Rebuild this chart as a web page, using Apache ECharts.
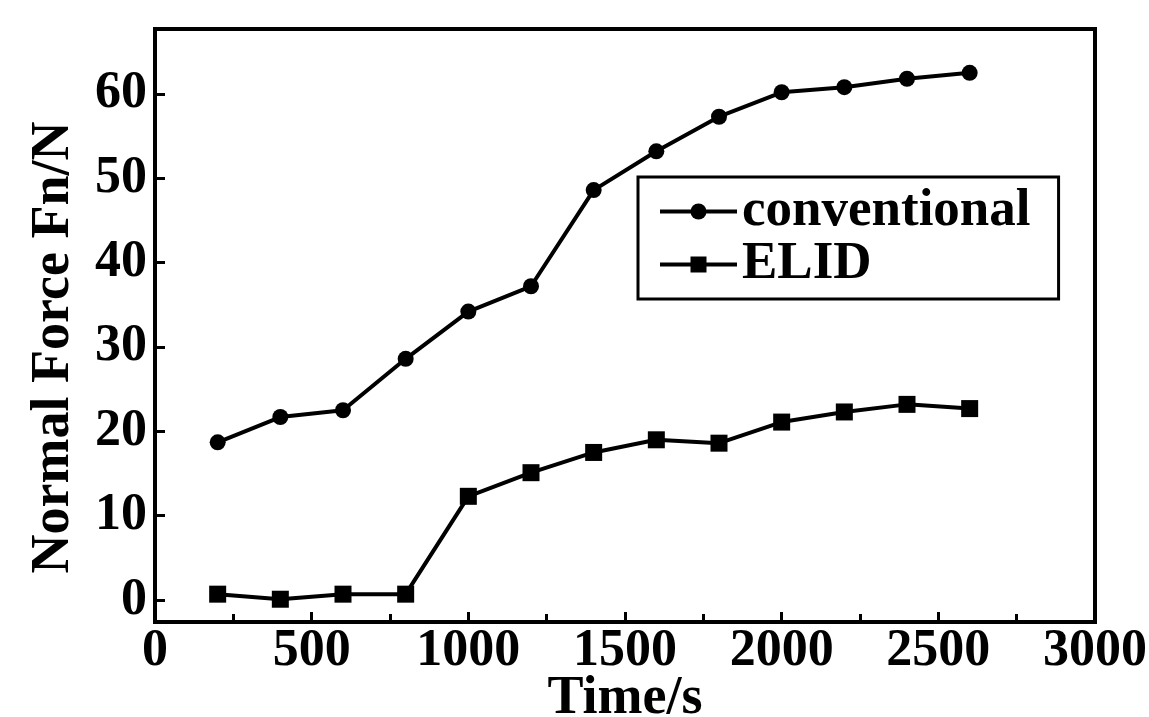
<!DOCTYPE html>
<html>
<head>
<meta charset="utf-8">
<script src="https://cdn.jsdelivr.net/npm/echarts@6/dist/echarts.min.js"></script>
<style>
  html, body { margin: 0; padding: 0; background: #fff; }
  #chart { width: 1149px; height: 717px; }
</style>
</head>
<body>
<div id="chart"></div>
<script>
// 数据
const times = [200, 400, 600, 800, 1000, 1200, 1400, 1600, 1800, 2000, 2200, 2400, 2600];
const conventional = [18.7, 21.7, 22.5, 28.6, 34.2, 37.2, 48.6, 53.2, 57.3, 60.2, 60.8, 61.8, 62.5];
const elid = [0.7, 0.1, 0.7, 0.7, 12.3, 15.1, 17.5, 19.0, 18.6, 21.1, 22.3, 23.2, 22.7];
const yTicks = [0, 10, 20, 30, 40, 50, 60];

const font = "'Liberation Serif', 'Times New Roman', serif";

let myChart = echarts.init(document.getElementById('chart'));
myChart.setOption({
    backgroundColor: '#fff',
    animation: false,
    grid: {
        left: 155,
        right: 54,
        top: 29,
        bottom: 95,
        outerBoundsMode: 'none',
        containLabel: false,
        show: true,
        borderColor: '#000',
        borderWidth: 4
    },
    legend: {
        left: 638,
        top: 177,
        orient: 'vertical',
        padding: [8, 28, 8, 20],
        itemGap: 0,
        itemWidth: 77,
        itemHeight: 20,
        itemTextGap: 8,
        borderColor: '#000',
        borderWidth: 3,
        lineStyle: {color: '#000', width: 4},
        textStyle: {
            fontFamily: font,
            fontWeight: 'bold',
            fontSize: 53,
            color: '#000'
        },
        data: ['conventional', 'ELID']
    },
    xAxis: {
        type: 'value',
        min: 0,
        max: 3000,
        interval: 500,
        name: 'Time/s',
        nameLocation: 'middle',
        nameGap: 50,
        nameMoveOverlap: false,
        nameTextStyle: {
            fontFamily: font,
            fontWeight: 'bold',
            fontSize: 54,
            color: '#000'
        },
        axisLine: {onZero: false, lineStyle: {color: '#000', width: 4}},
        axisTick: {inside: true, length: 10, lineStyle: {color: '#000', width: 3}},
        minorTick: {show: true, splitNumber: 2, length: 8, lineStyle: {color: '#000', width: 3}},
        splitLine: {show: false},
        axisLabel: {
            margin: 4,
            formatter: v => String(v),
            fontFamily: font,
            fontWeight: 'bold',
            fontSize: 52,
            color: '#000'
        }
    },
    yAxis: {
        type: 'value',
        min: -2.6,
        max: 67.7,
        name: 'Normal Force Fn/N',
        nameLocation: 'middle',
        nameGap: 74,
        nameMoveOverlap: false,
        nameTextStyle: {
            fontFamily: font,
            fontWeight: 'bold',
            fontSize: 54,
            color: '#000',
            padding: [0, 44, 0, 0]
        },
        axisLine: {show: true, onZero: false, lineStyle: {color: '#000', width: 4}},
        axisTick: {show: true, inside: true, length: 10, customValues: yTicks, lineStyle: {color: '#000', width: 3}},
        splitLine: {show: false},
        axisLabel: {
            margin: 8,
            customValues: yTicks,
            fontFamily: font,
            fontWeight: 'bold',
            fontSize: 52,
            color: '#000'
        }
    },
    series: [
        {
            name: 'conventional',
            type: 'line',
            data: times.map((t, i) => [t, conventional[i]]),
            symbol: 'circle',
            symbolSize: 16,
            lineStyle: {color: '#000', width: 4},
            itemStyle: {color: '#000'}
        },
        {
            name: 'ELID',
            type: 'line',
            data: times.map((t, i) => [t, elid[i]]),
            symbol: 'rect',
            symbolSize: 17,
            lineStyle: {color: '#000', width: 4},
            itemStyle: {color: '#000'}
        }
    ]
});
</script>
</body>
</html>
